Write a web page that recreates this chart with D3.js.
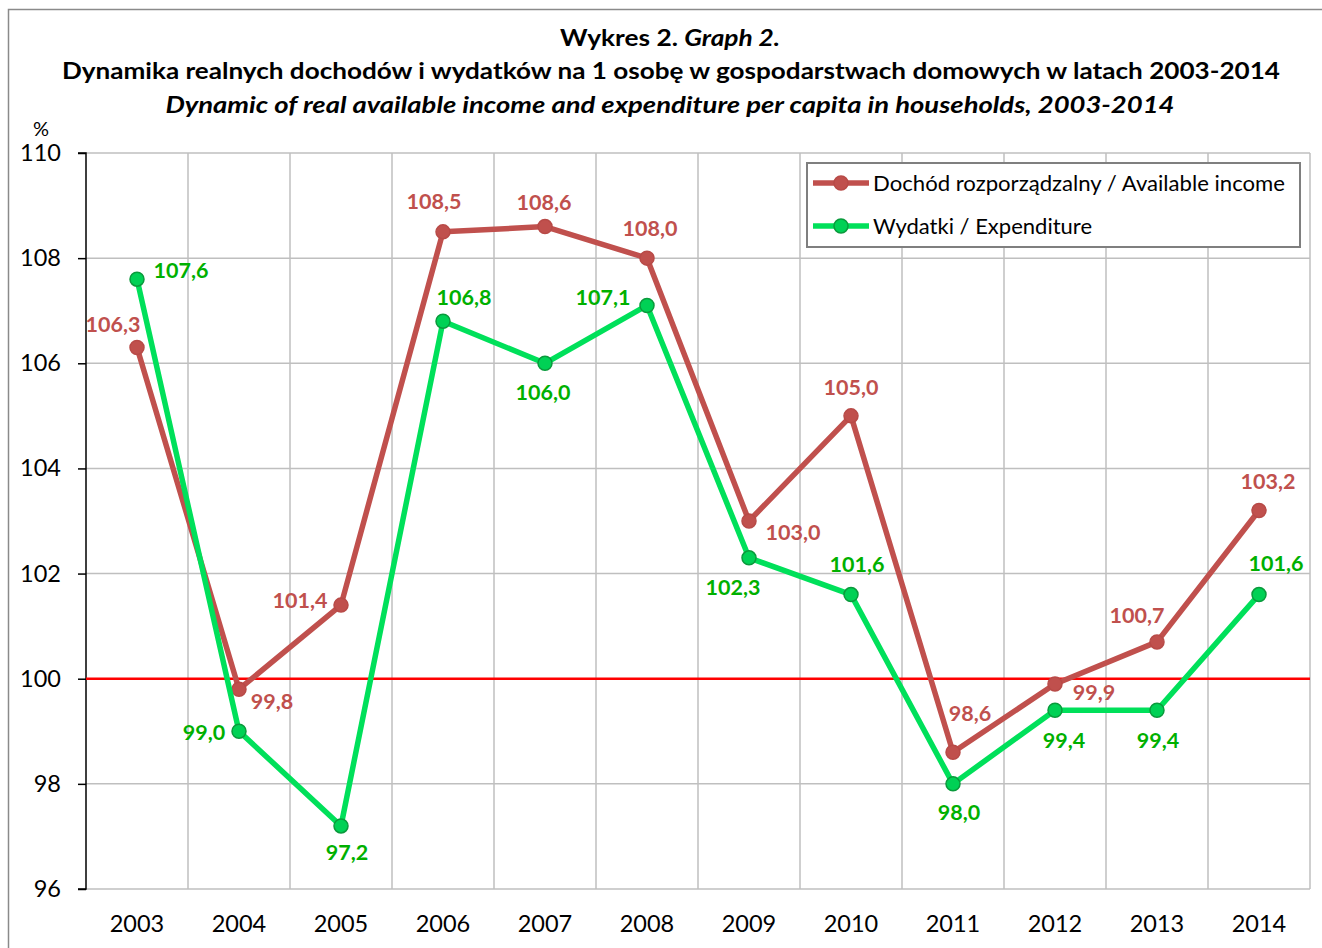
<!DOCTYPE html>
<html><head><meta charset="utf-8">
<script src="https://cdn.jsdelivr.net/npm/d3@7"></script>
<style>body{margin:0;background:#fff} svg{display:block}</style>
</head><body><svg id="c" width="1322" height="948"></svg>
<script>
// ---- data ----
const years = ["2003","2004","2005","2006","2007","2008","2009","2010","2011","2012","2013","2014"];
const income = [106.3, 99.8, 101.4, 108.5, 108.6, 108.0, 103.0, 105.0, 98.6, 99.9, 100.7, 103.2];
const expenditure = [107.6, 99.0, 97.2, 106.8, 106.0, 107.1, 102.3, 101.6, 98.0, 99.4, 99.4, 101.6];
const yTicks = [96, 98, 100, 102, 104, 106, 108, 110];
const seriesNames = ["Dochód rozporządzalny / Available income", "Wydatki / Expenditure"];
const referenceValue = 100;
const titleLine1a = "Wykres 2. ";
const titleLine1b = "Graph 2.";
const titleLine2 = "Dynamika realnych dochodów i wydatków na 1 osobę w gospodarstwach domowych w latach 2003-2014";
const titleLine3 = "Dynamic of real available income and expenditure per capita in households, 2003-2014";
const unitLabel = "%";

// ---- layout (label offsets relative to points) ----
const incomeLabelOffsets = [[-24,-24],[33,12],[-41,-5],[-9,-31],[-1,-25],[3,-30],[44,11],[0,-29],[17,-39],[39,8],[-20,-27],[9,-29]];
const expLabelOffsets = [[44,-9],[-35,1],[6,26],[21,-24],[-2,29],[-44,-8],[-16,29],[6,-31],[6,28],[9,30],[1,30],[17,-32]];

const FONT = "Lato, 'Open Sans', sans-serif";
const svg = d3.select("#c").style("font-family", FONT);
const L = 86, R = 1310, T = 153, B = 889;

const x = d3.scaleBand().domain(years).range([L, R]).padding(0);
const cx = d => x(d) + x.bandwidth() / 2;
const y = d3.scaleLinear().domain([96, 110]).range([B, T]);

// outer border
svg.append("rect").attr("x", 8.5).attr("y", 9.5).attr("width", 1330).attr("height", 960)
  .attr("fill", "none").attr("stroke", "#8a8a8a").attr("stroke-width", 1.5);

function squeeze(sel, target) {
  sel.attr("textLength", target).attr("lengthAdjust", "spacingAndGlyphs");
}

// titles
const t1 = svg.append("text").attr("x", 670).attr("y", 37).attr("text-anchor", "middle")
  .attr("dominant-baseline", "central").attr("font-size", 23.5).attr("font-weight", "bold").attr("fill", "#000");
t1.append("tspan").text(titleLine1a);
t1.append("tspan").attr("font-style", "italic").text(titleLine1b);
squeeze(t1, 220);
const t2 = svg.append("text").attr("x", 671).attr("y", 70).attr("text-anchor", "middle")
  .attr("dominant-baseline", "central").attr("font-size", 23.5).attr("font-weight", "bold").text(titleLine2);
squeeze(t2, 1218);
const t3 = svg.append("text").attr("x", 670).attr("y", 104).attr("text-anchor", "middle")
  .attr("dominant-baseline", "central").attr("font-size", 23.5).attr("font-weight", "bold")
  .attr("font-style", "italic").text(titleLine3);
squeeze(t3, 1009);

// unit
svg.append("text").attr("x", 41).attr("y", 128).attr("text-anchor", "middle")
  .attr("dominant-baseline", "central").attr("font-size", 20).text(unitLabel);

// grid
const grid = svg.append("g");
grid.selectAll("line.h").data(yTicks.filter(v => v !== referenceValue)).join("line")
  .attr("x1", L).attr("x2", R).attr("y1", d => y(d)).attr("y2", d => y(d))
  .attr("stroke", "#bfbfbf").attr("stroke-width", 1.5);
grid.selectAll("line.v").data(years).join("line")
  .attr("x1", d => x(d) + x.bandwidth()).attr("x2", d => x(d) + x.bandwidth())
  .attr("y1", T).attr("y2", B)
  .attr("stroke", "#bfbfbf").attr("stroke-width", 1.5);

// y axis
const yAxis = svg.append("g").attr("transform", `translate(${L},0)`)
  .call(d3.axisLeft(y).tickValues(yTicks).tickSize(8).tickPadding(17).tickFormat(d3.format("d")));
yAxis.select(".domain").attr("stroke", "#000").attr("stroke-width", 1.5).attr("d", `M-8,${T}H0V${B}H-8`);
yAxis.selectAll(".tick line").attr("stroke", "#000").attr("stroke-width", 1.5);
yAxis.selectAll(".tick text").attr("font-size", 23.5).attr("font-family", FONT).attr("fill", "#000");

// x axis labels
const xAxis = svg.append("g").attr("transform", `translate(0,${B})`)
  .call(d3.axisBottom(x).tickSize(0).tickPadding(26));
xAxis.select(".domain").remove();
xAxis.selectAll(".tick text").attr("font-size", 23.5).attr("font-family", FONT).attr("fill", "#000");

// reference line
svg.append("line").attr("x1", L).attr("x2", R).attr("y1", y(referenceValue)).attr("y2", y(referenceValue))
  .attr("stroke", "#ff0000").attr("stroke-width", 2.5);

const series = [
  {name: seriesNames[0], values: income, line: "#c0504d", fill: "#c0504d", stroke: "#b84a47", label: "#c0504d", offs: incomeLabelOffsets},
  {name: seriesNames[1], values: expenditure, line: "#00e05a", fill: "#00d155", stroke: "#0a9a3c", label: "#00b000", offs: expLabelOffsets}
];
const fmt = v => d3.format(".1f")(v).replace(".", ",");
const lineGen = d3.line().x((d, i) => cx(years[i])).y(d => y(d));

series.forEach(s => {
  const g = svg.append("g");
  g.append("path").datum(s.values).attr("d", lineGen).attr("fill", "none")
    .attr("stroke", s.line).attr("stroke-width", 5.5).attr("stroke-linejoin", "round");
  g.selectAll("circle").data(s.values).join("circle")
    .attr("cx", (d, i) => cx(years[i])).attr("cy", d => y(d)).attr("r", 7)
    .attr("fill", s.fill).attr("stroke", s.stroke).attr("stroke-width", 1.5);
});
series.forEach(s => {
  svg.append("g").selectAll("text").data(s.values).join("text")
    .attr("x", (d, i) => cx(years[i]) + s.offs[i][0]).attr("y", (d, i) => y(d) + s.offs[i][1])
    .attr("text-anchor", "middle").attr("dominant-baseline", "central")
    .attr("font-size", 21.5).attr("font-weight", "bold").attr("fill", s.label).text(fmt);
});

// legend
const lg = svg.append("g");
lg.append("rect").attr("x", 807).attr("y", 163).attr("width", 493).attr("height", 84)
  .attr("fill", "#fff").attr("stroke", "#7f7f7f").attr("stroke-width", 2);
const legendWidths = [412, 219];
series.forEach((s, i) => {
  const ly = 183 + i * 43;
  lg.append("line").attr("x1", 813).attr("x2", 869).attr("y1", ly).attr("y2", ly)
    .attr("stroke", s.line).attr("stroke-width", 5.5);
  lg.append("circle").attr("cx", 841).attr("cy", ly).attr("r", 7)
    .attr("fill", s.fill).attr("stroke", s.stroke).attr("stroke-width", 1.5);
  const tx = lg.append("text").attr("x", 873).attr("y", ly).attr("dominant-baseline", "central")
    .attr("font-size", 21.5).attr("fill", "#000").text(s.name);
  squeeze(tx, legendWidths[i]);
});
</script></body></html>
